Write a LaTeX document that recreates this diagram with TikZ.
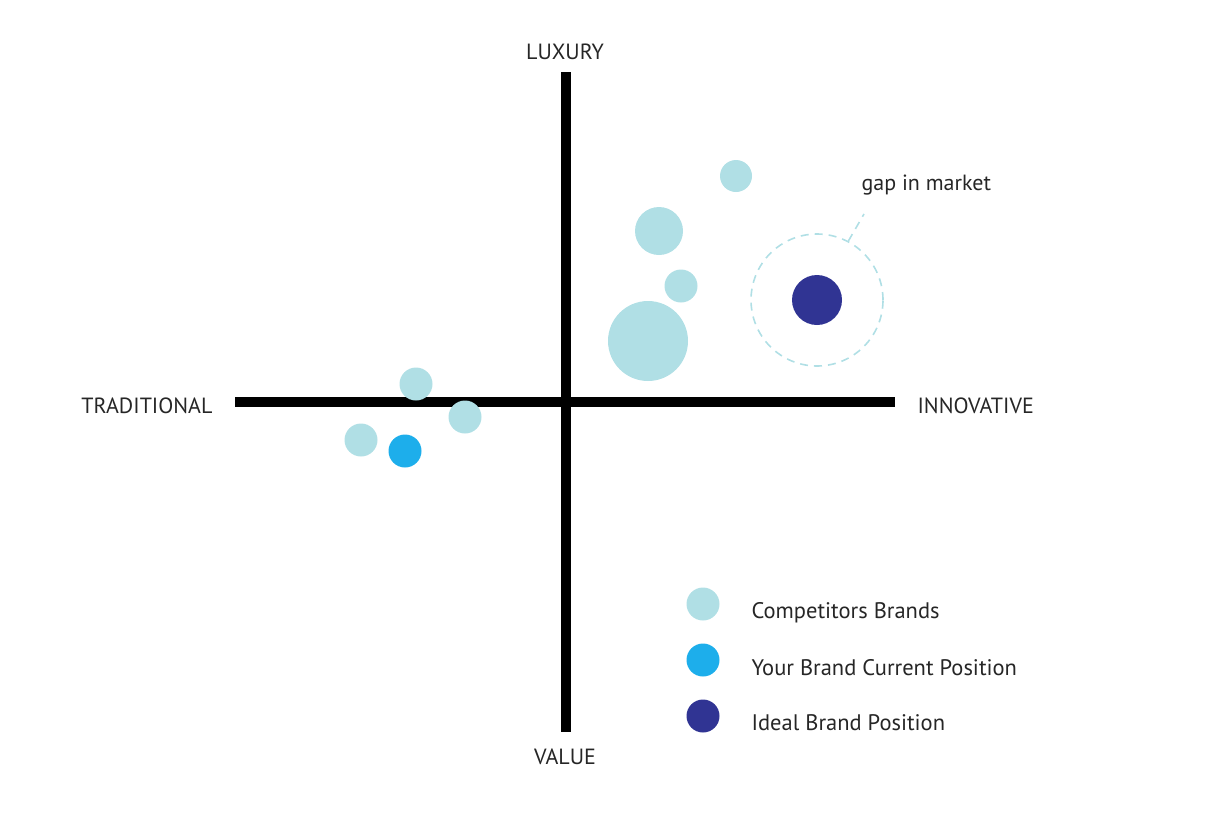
\documentclass[tikz,border=0pt]{standalone}
\usepackage{fontspec}
\setmainfont{PT Sans}
\usepackage{xcolor}
\definecolor{compcol}{HTML}{B0DFE5}
\definecolor{ownblue}{HTML}{1DAEEB}
\definecolor{idealnavy}{HTML}{303493}
\tikzset{
  axislabel/.style={font=\fontsize{22}{26}\selectfont, text=black!85},
  legendtext/.style={font=\fontsize{22.5}{26}\selectfont, text=black!85, anchor=west},
  brand/.style={circle, fill=#1, inner sep=0pt, draw=none},
  axisline/.style={line width=10pt, black}
}
\begin{document}
\begin{tikzpicture}[x=1pt, y=-1pt]
        \useasboundingbox (0, 0) rectangle (1230, 830);
        \coordinate (top) at (566, 72);
        \coordinate (bottom) at (566, 732);
        \coordinate (left) at (235, 402);
        \coordinate (right) at (895, 402);
        \draw[axisline] (left) -- (right);
        \draw[axisline] (top) -- (bottom);
        \node[axislabel] (lux) at (565, 52) {LUXURY};
        \node[axislabel] (val) at (565, 757) {VALUE};
        \node[axislabel, anchor=east] (trad) at (216, 406) {TRADITIONAL};
        \node[axislabel, anchor=west] (innov) at (914, 406) {INNOVATIVE};
        \node[brand=compcol, minimum size=32pt] (c1) at (736, 176) {};
        \node[brand=compcol, minimum size=48pt] (c2) at (659, 231) {};
        \node[brand=compcol, minimum size=33pt] (c3) at (681, 286) {};
        \node[brand=compcol, minimum size=80pt] (c4) at (648, 341) {};
        \node[brand=compcol, minimum size=33pt] (c5) at (416, 384) {};
        \node[brand=compcol, minimum size=33pt] (c6) at (465, 417) {};
        \node[brand=compcol, minimum size=33pt] (c7) at (361, 440) {};
        \node[brand=ownblue, minimum size=33pt] (own) at (405, 451) {};
        \node[brand=idealnavy, minimum size=50pt] (ideal) at (817, 300) {};
        \node[circle, draw=compcol, line width=1.6pt, dash pattern=on 8pt off 6pt, minimum size=132pt, inner sep=0pt] (gap) at (817, 300) {};
        \node[axislabel, font=\fontsize{22}{26}\selectfont, anchor=west] (gaplabel) at (858, 185) {gap in market};
        \coordinate (gapend) at (864, 214);
        \draw[compcol, line width=1.6pt, dash pattern=on 8pt off 6pt] (gap.62) -- (gapend);
        \node[brand=compcol, minimum size=33pt] (k1) at (703, 604) {};
        \node[brand=ownblue, minimum size=33pt] (k2) at (703, 660) {};
        \node[brand=idealnavy, minimum size=33pt] (k3) at (703, 716) {};
        \node[legendtext] (t1) at (748, 613) {Competitors Brands};
        \node[legendtext] (t2) at (748, 668) {Your Brand Current Position};
        \node[legendtext] (t3) at (748, 723) {Ideal Brand Position};
      \end{tikzpicture}
\end{document}
